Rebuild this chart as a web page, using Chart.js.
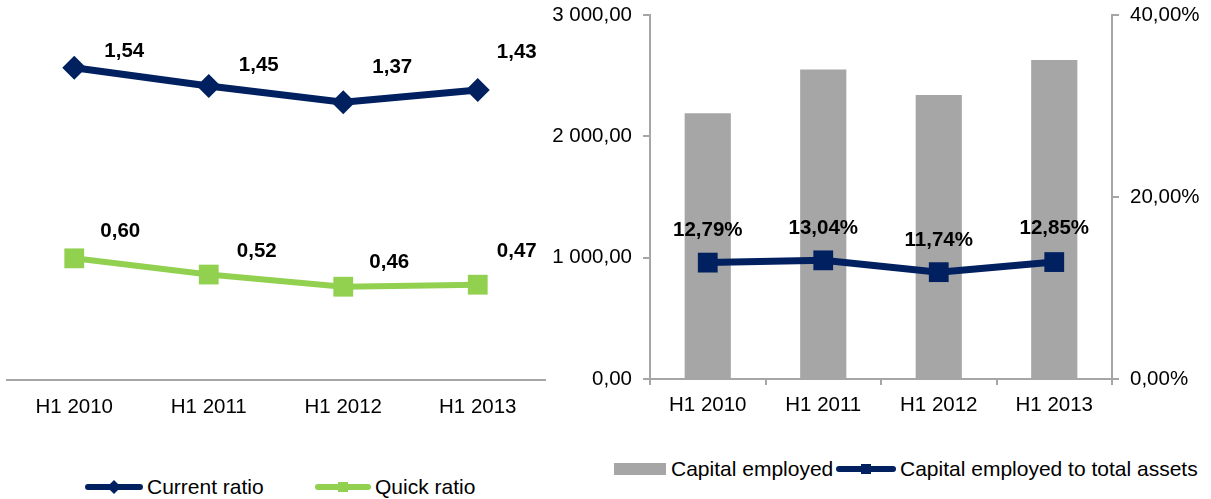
<!DOCTYPE html>
<html>
<head>
<meta charset="utf-8">
<script src="https://cdn.jsdelivr.net/npm/chart.js@4.4.1/dist/chart.umd.min.js"></script>
<style>
    body { margin: 0; width: 1211px; height: 499px; background: #fff; overflow: hidden; font-family: "Liberation Sans", Arial, sans-serif; }
    #ratioChart { position: absolute; left: 0; top: 0; }
    #capitalChart { position: absolute; left: 530px; top: 0; }
    .legend-item { position: absolute; display: flex; align-items: center; font-size: 21px; color: #000; white-space: nowrap; height: 24px; }
    .legend-line { position: relative; height: 6px; border-radius: 3px; margin-right: 4px; }
    .legend-line i { position: absolute; left: 50%; top: 50%; width: 10px; height: 10px; margin: -5px 0 0 -5px; }
    .legend-box { width: 52px; height: 12px; margin-right: 5px; }
</style>
</head>
<body>
<canvas id="ratioChart" width="560" height="430"></canvas>
<canvas id="capitalChart" width="681" height="430"></canvas>
<div id="legends"></div>
<script>
// Data
const categories = ['H1 2010', 'H1 2011', 'H1 2012', 'H1 2013'];
const currentRatio = [1.54, 1.45, 1.37, 1.43];
const quickRatio = [0.60, 0.52, 0.46, 0.47];
const capitalEmployed = [2190, 2550, 2340, 2630];
const capitalToAssets = [12.79, 13.04, 11.74, 12.85]; // percent
const capitalTicks = [0, 1000, 2000, 3000];
const percentTicks = [0, 20, 40];

const NAVY = '#002060';
const GREEN = '#92D050';
const GREY = '#A6A6A6';
const FONT = '"Liberation Sans", Arial, sans-serif';
const TICK_FONT = { family: FONT, size: 20.5 };

// "3 000,00" style numbers
function formatNumber(v) {
    const parts = v.toFixed(2).split('.');
    parts[0] = parts[0].replace(/\B(?=(\d{3})+(?!\d))/g, ' ');
    return parts.join(',');
}
function formatPercent(v) {
    return v.toFixed(2).replace('.', ',') + '%';
}

// keep the plot area exactly where padding/afterFit put it
function noEdgePadding(scale) {
    scale.paddingTop = 0;
    scale.paddingBottom = 0;
    scale.paddingLeft = 0;
    scale.paddingRight = 0;
}

// Draws the value next to each point, shifted by the dataset's label offsets
const valueLabels = {
    id: 'valueLabels',
    afterDatasetsDraw(chart) {
        const ctx = chart.ctx;
        ctx.save();
        ctx.font = 'bold 20.5px ' + FONT;
        ctx.fillStyle = '#000';
        ctx.textAlign = 'center';
        ctx.textBaseline = 'middle';
        chart.data.datasets.forEach((ds, i) => {
            if (!ds.valueLabel) return;
            const meta = chart.getDatasetMeta(i);
            meta.data.forEach((pt, j) => {
                const text = ds.valueLabel.format(ds.data[j]);
                ctx.fillText(text, pt.x + ds.valueLabel.dx[j], pt.y + ds.valueLabel.dy[j]);
            });
        });
        ctx.restore();
    }
};

new Chart(document.getElementById('ratioChart'), {
    type: 'line',
    data: {
        labels: categories,
        datasets: [{
            label: 'Current ratio',
            data: currentRatio,
            borderColor: NAVY,
            backgroundColor: NAVY,
            borderWidth: 7,
            pointStyle: 'rectRot',
            pointRadius: 12,
            pointHoverRadius: 12,
            pointBorderWidth: 0,
            tension: 0,
            valueLabel: { format: formatNumber, dx: [50, 50, 49, 39], dy: [-16, -21, -35, -38] }
        }, {
            label: 'Quick ratio',
            data: quickRatio,
            borderColor: GREEN,
            backgroundColor: GREEN,
            borderWidth: 6,
            pointStyle: 'rect',
            pointRadius: 14,
            pointHoverRadius: 14,
            pointBorderWidth: 0,
            tension: 0,
            valueLabel: { format: formatNumber, dx: [46, 48, 46, 39], dy: [-27, -23, -24, -33] }
        }]
    },
    options: {
        responsive: false,
        animation: false,
        layout: { autoPadding: false, padding: { left: 7, right: 15, top: 15, bottom: 0 } },
        plugins: { legend: { display: false }, tooltip: { enabled: false } },
        scales: {
            x: {
                offset: true,
                grid: { display: false },
                border: { display: true, color: GREY, width: 2 },
                ticks: { color: '#000', font: TICK_FONT, padding: 7 },
                afterFit: scale => { scale.height = 50; noEdgePadding(scale); }
            },
            y: { display: false, min: 0, max: 1.8 }
        }
    },
    plugins: [valueLabels]
});

new Chart(document.getElementById('capitalChart'), {
    type: 'bar',
    data: {
        labels: categories,
        datasets: [{
            type: 'line',
            label: 'Capital employed to total assets',
            data: capitalToAssets,
            yAxisID: 'y1',
            order: 0,
            borderColor: NAVY,
            backgroundColor: NAVY,
            borderWidth: 7,
            pointStyle: 'rect',
            pointRadius: 14,
            pointHoverRadius: 14,
            pointBorderWidth: 0,
            tension: 0,
            valueLabel: { format: formatPercent, dx: [0, 0, 0, 0], dy: [-32, -32, -32, -34] }
        }, {
            type: 'bar',
            label: 'Capital employed',
            data: capitalEmployed,
            yAxisID: 'y',
            order: 1,
            backgroundColor: GREY,
            barPercentage: 0.4,
            categoryPercentage: 1
        }]
    },
    options: {
        responsive: false,
        animation: false,
        layout: { autoPadding: false, padding: { left: 0, right: 0, top: 15, bottom: 0 } },
        plugins: { legend: { display: false }, tooltip: { enabled: false } },
        scales: {
            x: {
                grid: { display: true, drawOnChartArea: false, offset: true, tickLength: 6, color: GREY, lineWidth: 2 },
                border: { display: true, color: GREY, width: 2 },
                ticks: { color: '#000', font: TICK_FONT, padding: 8 },
                afterFit: scale => { scale.height = 51; noEdgePadding(scale); }
            },
            y: {
                position: 'left',
                min: 0,
                max: 3000,
                afterBuildTicks: scale => { scale.ticks = capitalTicks.map(v => ({ value: v })); },
                ticks: { color: '#000', font: TICK_FONT, padding: 11, callback: v => formatNumber(v) },
                grid: { drawOnChartArea: false, tickLength: 7, color: GREY, lineWidth: 2 },
                border: { display: true, color: GREY, width: 2 },
                afterFit: scale => { scale.width = 120; noEdgePadding(scale); }
            },
            y1: {
                position: 'right',
                min: 0,
                max: 40,
                afterBuildTicks: scale => { scale.ticks = percentTicks.map(v => ({ value: v })); },
                ticks: { color: '#000', font: TICK_FONT, padding: 11, callback: v => formatPercent(v) },
                grid: { drawOnChartArea: false, tickLength: 7, color: GREY, lineWidth: 2 },
                border: { display: true, color: GREY, width: 2 },
                afterFit: scale => { scale.width = 99; noEdgePadding(scale); }
            }
        }
    },
    plugins: [valueLabels]
});

// HTML legends under each chart
const legendItems = [
    { text: 'Current ratio', kind: 'line', color: NAVY, marker: 'diamond', left: 85, top: 475, width: 58 },
    { text: 'Quick ratio', kind: 'line', color: GREEN, marker: 'square', left: 315, top: 475, width: 56 },
    { text: 'Capital employed', kind: 'box', color: GREY, left: 614, top: 457 },
    { text: 'Capital employed to total assets', kind: 'line', color: NAVY, marker: 'square', left: 836, top: 457, width: 60 }
];
const legendHost = document.getElementById('legends');
legendItems.forEach(item => {
    const div = document.createElement('div');
    div.className = 'legend-item';
    div.style.left = item.left + 'px';
    div.style.top = item.top + 'px';
    const swatch = document.createElement('span');
    if (item.kind === 'box') {
        swatch.className = 'legend-box';
        swatch.style.background = item.color;
    } else {
        swatch.className = 'legend-line';
        swatch.style.width = item.width + 'px';
        swatch.style.background = item.color;
        const mark = document.createElement('i');
        mark.style.background = item.color;
        if (item.marker === 'diamond') mark.style.transform = 'rotate(45deg)';
        swatch.appendChild(mark);
    }
    div.appendChild(swatch);
    const label = document.createElement('span');
    label.textContent = item.text;
    div.appendChild(label);
    legendHost.appendChild(div);
});
</script>
</body>
</html>
